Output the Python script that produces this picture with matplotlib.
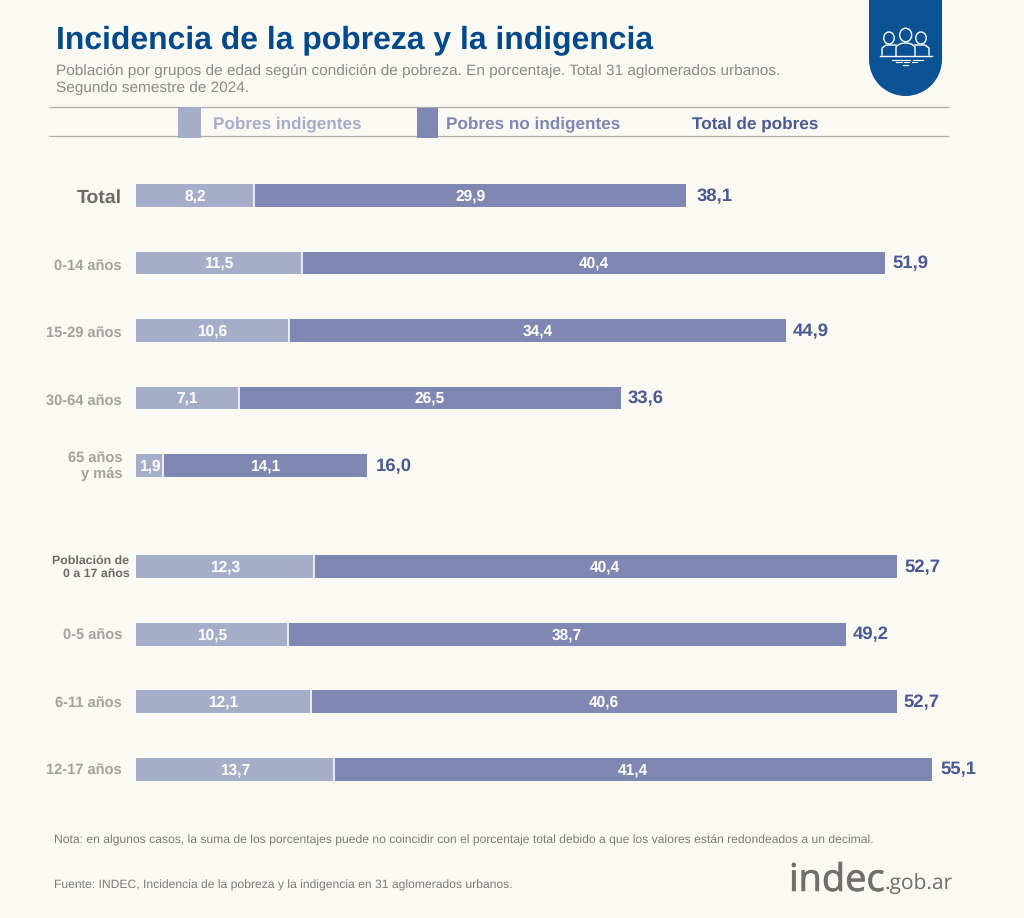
import matplotlib
matplotlib.use("Agg")
import matplotlib.pyplot as plt
from matplotlib.patches import Rectangle, Circle, Ellipse, PathPatch
from matplotlib.path import Path
import matplotlib.patheffects as pe

plt.rcParams['font.family'] = ['Liberation Sans', 'DejaVu Sans']
plt.rcParams['text.hinting'] = 'no_hinting'
plt.rcParams['text.hinting_factor'] = 8

# ---- data ----
categories = ["Total", "0-14 años", "15-29 años", "30-64 años", "65 años\ny más",
              "Población de\n0 a 17 años", "0-5 años", "6-11 años", "12-17 años"]
indigentes = [8.2, 11.5, 10.6, 7.1, 1.9, 12.3, 10.5, 12.1, 13.7]
no_indigentes = [29.9, 40.4, 34.4, 26.5, 14.1, 40.4, 38.7, 40.6, 41.4]
totales = [38.1, 51.9, 44.9, 33.6, 16.0, 52.7, 49.2, 52.7, 55.1]
group_sizes = [5, 4]
legend_labels = ["Pobres indigentes", "Pobres no indigentes", "Total de pobres"]
title = "Incidencia de la pobreza y la indigencia"
subtitle = ("Población por grupos de edad según condición de pobreza. En porcentaje. "
            "Total 31 aglomerados urbanos.\nSegundo semestre de 2024.")
nota = ("Nota: en algunos casos, la suma de los porcentajes puede no coincidir con el "
        "porcentaje total debido a que los valores están redondeados a un decimal.")
fuente = "Fuente: INDEC, Incidencia de la pobreza y la indigencia en 31 aglomerados urbanos."

# ---- style ----
BG = "#FBF9F3"
C_IND = "#A6ADC9"
C_NO = "#7F87B2"
C_TOT = "#4A5A92"
C_BLUE = "#004A8C"
C_GRAY = "#A3A29E"
C_DARK = "#6B6A67"
W, H = 1024, 918
PPU = 14.44  # pixels per percentage point
TOTAL_GAPS_PX = [9.5, 6.5, 6.5, 5.5, 8.5, 6.5, 5.5, 6, 8.5]
LABEL_DROP_PX = [2, 2.5, 2, 2.5, 0, 0, 0, 0.5, 0]


def fmt(v):
    return f"{v:.1f}".replace(".", ",")


def px(size):
    return size * 72 / 100


fig = plt.figure(figsize=(W / 100, H / 100), dpi=100, facecolor=BG)

# pixel overlay for page furniture
page = fig.add_axes([0, 0, 1, 1], zorder=1)
page.set_xlim(0, W)
page.set_ylim(H, 0)
page.axis("off")

# chart axes: x in percent, y in rows
left, right = 136.0, 1000.0
row0, pitch = 195.5, 67.5
top_px, bot_px = row0 - pitch / 2, 769 + pitch / 2
ax = fig.add_axes([left / W, 1 - bot_px / H, (right - left) / W, (bot_px - top_px) / H],
                  zorder=2)
ax.patch.set_alpha(0)
ax.set_xlim(0, (right - left) / PPU)
ax.set_ylim((bot_px - row0) / pitch, -0.5)
ax.axis("off")

# rows: second group is set apart by half a row
ys = []
pos = 0.0
for size in group_sizes:
    ys.extend(pos + i for i in range(size))
    pos += size + 0.5

ax.barh(ys, indigentes, height=0.34, color=C_IND, linewidth=0)
ax.barh(ys, no_indigentes, left=indigentes, height=0.34, color=C_NO, linewidth=0)
ax.vlines(indigentes, [y - 0.17 for y in ys], [y + 0.17 for y in ys],
          color="#FCFBF8", linewidth=1.2, zorder=3)

label_styles = {0: (px(19.5), C_DARK, 14), 5: (px(12.4), C_DARK, 6.5)}
for i, (y, cat, a, b, t) in enumerate(zip(ys, categories, indigentes, no_indigentes, totales)):
    ax.text(a / 2, y + 0.01, fmt(a), color="white", fontsize=px(15.5), fontweight="bold",
            ha="center", va="center", zorder=4)
    ax.text(a + b / 2, y + 0.01, fmt(b), color="white", fontsize=px(15.5), fontweight="bold",
            ha="center", va="center", zorder=4)
    ax.annotate(fmt(t), (a + b, y), xytext=((TOTAL_GAPS_PX[i] + 0.5) * 0.72, -0.5),
                textcoords="offset points", color=C_TOT, fontsize=px(18.5), fontweight="bold",
                ha="left", va="center", zorder=4, annotation_clip=False)
    fs, col, off = label_styles.get(i, (px(14.65), C_GRAY, 14))
    ax.annotate(cat, (0, y), xytext=(-off * 0.72, -0.5 - LABEL_DROP_PX[i] * 0.72),
                textcoords="offset points", color=col, fontsize=fs, fontweight="bold",
                ha="right", va="center", linespacing=1.2, annotation_clip=False)

# title block
page.text(56, 40, title, color=C_BLUE, fontsize=px(31.85), fontweight="bold",
          ha="left", va="center")
page.text(56, 79.5, subtitle, color="#8B8A87", fontsize=px(15.35), ha="left", va="center",
          linespacing=1.2)

# legend band
for yy in (107.2, 136.2):
    page.plot([49, 949], [yy, yy], color="#AFAEAA", lw=0.9, solid_capstyle="butt")
page.add_patch(Rectangle((178, 107), 22.5, 30.5, color=C_IND, lw=0, zorder=3))
page.add_patch(Rectangle((417, 108), 20.5, 29.5, color=C_NO, lw=0, zorder=3))
for x, lab, col in zip((213, 445.5, 692), legend_labels, (C_IND, C_NO, C_TOT)):
    page.text(x, 124, lab, color=col, fontsize=px(17.15), fontweight="bold",
              ha="left", va="center")

# badge with icon
BADGE = "#0B5294"
page.add_patch(Rectangle((869, -5), 73, 64.5, color=BADGE, lw=0))
page.add_patch(Circle((905.5, 59.5), 36.5, color=BADGE, lw=0))
ICON = "white"
for cx, cy, w, h in ((905.7, 35, 12, 13.5), (889, 38, 10.5, 12), (921, 38, 10.5, 12)):
    page.add_patch(Ellipse((cx, cy), w, h, fc="none", ec=ICON, lw=1.0, zorder=3))
verts = [(896, 56), (896, 47), (899, 43), (905.5, 43), (912, 43), (915, 47), (915, 56)]
page.add_patch(PathPatch(Path(verts, [1, 2, 3, 3, 3, 3, 2]), fc="none", ec=ICON, lw=1.0, zorder=3))
page.plot([882, 882, 886, 896], [55, 48, 45, 45], color=ICON, lw=1.0)
page.plot([929, 929, 925, 915], [55, 48, 45, 45], color=ICON, lw=1.0)
page.plot([880, 932], [56, 56], color=ICON, lw=1.0)
for x0, x1, yy in ((892, 902, 59.5), (903, 910, 59.5), (913, 923, 59.5),
                   (896, 902, 62.2), (904, 909, 62.2), (912, 917, 62.2), (903, 908, 65)):
    page.plot([x0, x1], [yy, yy], color=ICON, lw=0.8)

# footer
page.text(53.5, 840.5, nota, color="#7C7B78", fontsize=px(12.17), ha="left", va="center")
page.text(53.5, 885, fuente, color="#7C7B78", fontsize=px(12.17), ha="left", va="center")

# logo
t = page.text(789, 881, "indec", color="#6F6F6C", fontsize=px(38), ha="left", va="center",
              family="Open Sans")
t.set_path_effects([pe.withStroke(linewidth=0.5, foreground="#6F6F6C")])
page.text(884, 884.5, ".gob.ar", color="#6F6F6C", fontsize=px(21), ha="left", va="center",
          family="Open Sans")

fig.savefig("out.png", dpi=100, facecolor=BG)
